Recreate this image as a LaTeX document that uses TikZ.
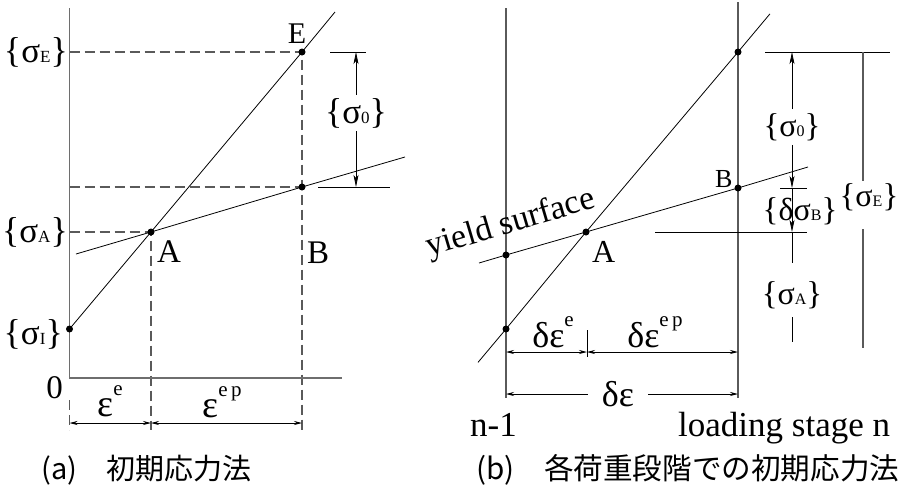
\documentclass[tikz,border=0pt]{standalone}
\usepackage{fontspec}
\setmainfont{Liberation Serif}
\newfontfamily\cjkfont{Noto Sans CJK JP}
\usetikzlibrary{arrows.meta,calc}
\definecolor{AxisGray}{HTML}{6E6E6E}
\definecolor{GuideGray}{HTML}{5A5A5A}
\newcommand\fs[1]{\fontsize{#1}{#1}\selectfont}
% brace size, sigma size, subscript size, subscript
\newcommand\sigl[4]{{\fs{#1}\{}{\fs{#2}σ}{\fs{#3}#4}{\fs{#1}\}}}
\newcommand\sups[1]{\raisebox{21pt}{\fs{21}#1}}
\tikzset{
  axisline/.style={draw=AxisGray, line width=1.6pt},
  guideline/.style={draw=GuideGray, line width=1.3pt, dash pattern=on 10pt off 5pt},
  stageline/.style={draw=GuideGray, line width=1.2pt},
  curveline/.style={black, line width=0.8pt},
  refline/.style={black, line width=1pt},
  tipline/.style={-{Stealth[length=12pt,width=5pt,inset=3pt]}, line width=0.8pt},
  dimarrow/.style={{Stealth[length=8pt,width=4pt]}-{Stealth[length=8pt,width=4pt]}, line width=0.8pt},
  dimtip/.style={-{Stealth[length=8pt,width=4pt]}, line width=0.8pt},
  dot/.style={fill=black},
  lbl/.style={font=\fs{32}, inner sep=0pt},
  caption/.style={font=\cjkfont\fs{29}, inner sep=0pt, anchor=west},
}
\begin{document}
\begin{tikzpicture}[x=1pt,y=-1pt]
  \useasboundingbox (0,0) rectangle (898,491);

  % (a) initial stress method
  \coordinate (O) at (69.5,378);
  \coordinate (yTop) at (69.5,8);
  \coordinate (xEnd) at (342,378);
  \coordinate (sI) at (69.5,329);
  \coordinate (A) at (151,232);
  \coordinate (E) at (302,52);
  \coordinate (B) at (302,187);
  \coordinate (stiffEnd) at (335,12);
  \coordinate (yieldBeg) at (76,254);
  \coordinate (yieldEnd) at (405,157);
  \coordinate (Obot) at (69.5,400);
  \coordinate (Olow) at (69.5,430);
  \coordinate (Alow) at (151,430);
  \coordinate (Elow) at (302,430);

  \draw[guideline] (O |- E) -- (E) -- (Elow);
  \draw[guideline] (O |- B) -- (B);
  \draw[guideline] (O |- A) -- (A) -- (Alow);
  \draw[guideline] (Obot) -- (Olow);
  \draw[axisline] (yTop) -- (O) -- (xEnd);
  \draw[curveline] (sI) -- (A) -- (E) -- (stiffEnd);
  \draw[curveline] (yieldBeg) -- (A) -- (B) -- (yieldEnd);
  \foreach \p in {sI,A,E,B} \fill[dot] (\p) circle[radius=3.5pt];

  \draw[refline] (330,52) -- (366,52);
  \draw[refline] (318,187) -- (390,187);
  \node[lbl, inner sep=3pt] (s0a) at (356,113) {\sigl{36}{35}{17}{0}};
  \draw[tipline] (s0a.north) -- (356,52);
  \draw[tipline] (s0a.south) -- (356,187);

  \node[lbl, anchor=east] (sEa) at (68,52) {\sigl{36}{35}{17}{E}};
  \node[lbl, anchor=east] (sAa) at (68,232) {\sigl{36}{35}{17}{A}};
  \node[lbl, anchor=east] (sIa) at (63,334) {\sigl{36}{35}{17}{I}};
  \node[lbl, font=\fs{33}, anchor=base east] (zero) at (63,398) {0};
  \node[lbl, font=\fs{30}, anchor=base] (Elbl) at (297,43) {E};
  \node[lbl, font=\fs{33}, anchor=base west] (Albl) at (157,262) {A};
  \node[lbl, font=\fs{33}, anchor=base west] (Blbl) at (307,263) {B};

  \coordinate (dimO) at (69.5,423);
  \coordinate (dimA) at (151,423);
  \coordinate (dimE) at (302,423);
  \draw[dimarrow] (dimO) -- (dimA);
  \draw[dimarrow] (dimA) -- (dimE);
  \node[lbl, font=\fs{38}, anchor=base] (epsE) at (110,416) {ε\sups{e}};
  \node[lbl, font=\fs{38}, anchor=base] (epsEP) at (222,417) {ε\sups{e\,p}};

  \node[caption] (capA) at (41,470) {(a)　初期応力法};

  % (b) initial stress method per loading stage
  \coordinate (prevTop) at (506,8);
  \coordinate (prevBot) at (506,398);
  \coordinate (curTop) at (738,2);
  \coordinate (curBot) at (738,398);
  \coordinate (rI) at (506,329);
  \coordinate (rY) at (506,255);
  \coordinate (rA) at (586,232);
  \coordinate (rE) at (738,52);
  \coordinate (rB) at (738,188);
  \coordinate (rStiffBeg) at (478,362.4);
  \coordinate (rStiffEnd) at (770,13.8);
  \coordinate (rYieldBeg) at (479,263);
  \coordinate (rYieldEnd) at (808,167);

  \draw[stageline] (prevTop) -- (prevBot);
  \draw[stageline] (curTop) -- (curBot);
  \draw[curveline] (rStiffBeg) -- (rI) -- (rA) -- (rE) -- (rStiffEnd);
  \draw[curveline] (rYieldBeg) -- (rY) -- (rA) -- (rB) -- (rYieldEnd);
  \foreach \p in {rI,rY,rA,rE,rB} \fill[dot] (\p) circle[radius=3.5pt];

  \draw[refline] (765,52) -- (890,52);
  \draw[refline] (780,188) -- (807,188);
  \draw[refline] (655,232) -- (807,232);

  \node[lbl, inner sep=4pt] (s0b) at (792,127) {\sigl{33}{32}{16}{0}};
  \draw[tipline] (s0b.north) -- (792,52);
  \draw[tipline] (s0b.south) -- (792,188);
  \draw[tipline] (792,188) -- (792,232);
  \node[lbl] (dsB) at (800,211) {{\fs{33}\{}{\fs{32}δσ}{\fs{16}B}{\fs{33}\}}};
  \node[lbl] (sAb) at (792,295) {\sigl{33}{32}{16}{A}};
  \draw[curveline] (792,232) -- (792,263);
  \draw[curveline] (792,317) -- (792,342);
  \node[lbl] (sEb) at (869,197) {\sigl{33}{32}{16}{E}};
  \draw[stageline] (863,52) -- (863,181);
  \draw[stageline] (863,229) -- (863,348);

  \node[lbl, font=\fs{34}, anchor=base, rotate=16.5] (yieldLbl) at (513,232) {yield surface};
  \node[lbl, font=\fs{32}, anchor=base west] (rAlbl) at (592,262) {A};
  \node[lbl, font=\fs{26}, anchor=base west] (rBlbl) at (715,187) {B};

  \coordinate (dPrev) at (506,352);
  \coordinate (dMid) at (587,352);
  \coordinate (dCur) at (738,352);
  \draw[dimarrow] (dPrev) -- (dMid);
  \draw[dimarrow] (dMid) -- (dCur);
  \draw[curveline] (587,330) -- (587,357);
  \node[lbl, font=\fs{36}, anchor=base] (dEpsE) at (553,347) {δε\sups{e}};
  \node[lbl, font=\fs{36}, anchor=base] (dEpsEP) at (655,347) {δε\sups{e\,p}};

  \node[lbl, font=\fs{36}, inner xsep=14pt] (dEps) at (618,394) {δε};
  \draw[dimtip] (dEps.west |- 0,394) -- (506,394);
  \draw[dimtip] (dEps.east |- 0,394) -- (738,394);

  \node[lbl, font=\fs{35}, anchor=base west] (nPrev) at (470,436) {n-1};
  \node[lbl, font=\fs{35}, anchor=base west] (nCur) at (678,436) {loading stage n};

  \node[caption, font=\cjkfont\fs{29.6}] (capB) at (476,470) {(b)　各荷重段階での初期応力法};
\end{tikzpicture}
\end{document}
